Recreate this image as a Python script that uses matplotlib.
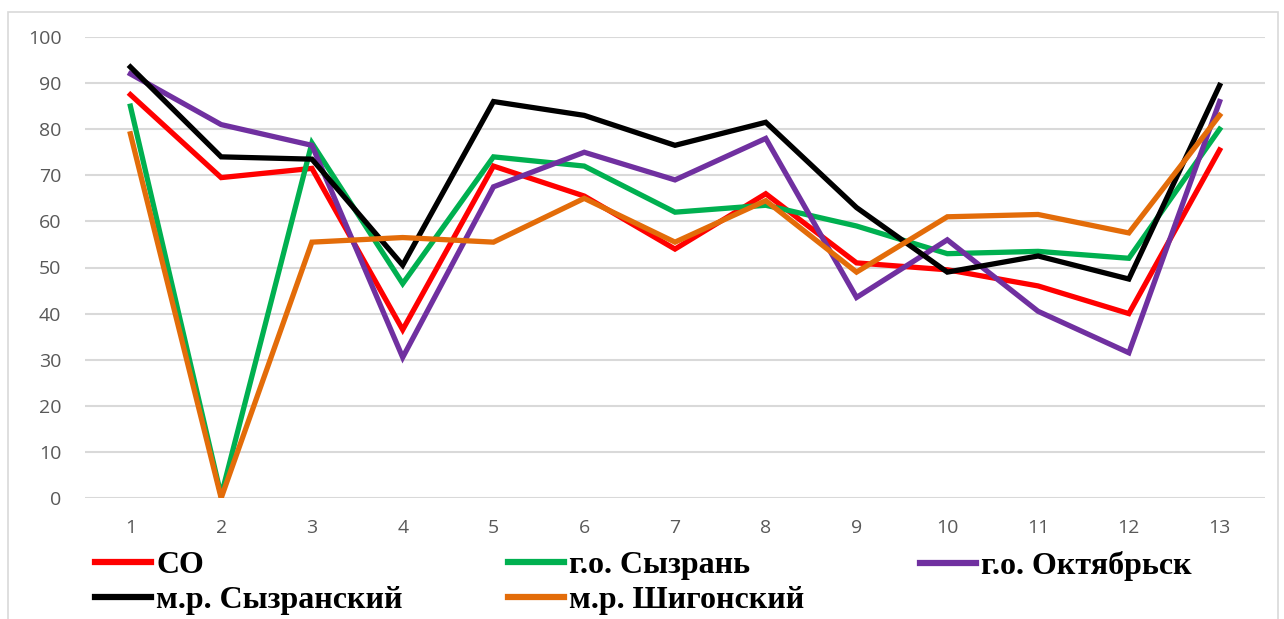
import matplotlib
matplotlib.use("Agg")
import matplotlib.pyplot as plt
from matplotlib.lines import Line2D
from matplotlib.patches import Rectangle

x = list(range(1, 14))
names = ["СО", "г.о. Сызрань", "г.о. Октябрьск", "м.р. Сызранский", "м.р. Шигонский"]
so = [87.5, 69.5, 71.5, 36.5, 72, 65.5, 54, 66, 51, 49.5, 46, 40, 75.5]
syzran = [85, 0.5, 77, 46.5, 74, 72, 62, 63.5, 59, 53, 53.5, 52, 80]
oktyabrsk = [92, 81, 76.5, 30.5, 67.5, 75, 69, 78, 43.5, 56, 40.5, 31.5, 86]
syzranskiy = [93.5, 74, 73.5, 50.5, 86, 83, 76.5, 81.5, 63, 49, 52.5, 47.5, 89.5]
shigonskiy = [79, 0, 55.5, 56.5, 55.5, 65, 55.5, 64.5, 49, 61, 61.5, 57.5, 83]
colors = ["#ff0000", "#00b050", "#7030a0", "#000000", "#e36c09"]
series = [so, syzran, oktyabrsk, syzranskiy, shigonskiy]

W, H = 1284, 619
fig = plt.figure(figsize=(W / 100, H / 100), dpi=100)
ax = fig.add_axes([85 / W, 1 - 498 / H, (1265 - 85) / W, (498 - 37) / H])

fig.patches.append(Rectangle((8 / W, -0.01), (1278 - 8) / W, 1 - 12 / H + 0.01,
                             transform=fig.transFigure, fill=False,
                             edgecolor="#d9d9d9", linewidth=1.2))

for vals, c, n in zip(series, colors, names):
    ax.plot(x, vals, color=c, linewidth=3.8, solid_joinstyle="miter", label=n)

ax.set_xlim(0.5, 13.5)
ax.set_ylim(0, 100)
ax.set_yticks(range(0, 101, 10))
ax.set_xticks(x)
ax.grid(axis="y", color="#d9d9d9", linewidth=1.5)
ax.set_axisbelow(True)
for s in ax.spines.values():
    s.set_visible(False)
ax.tick_params(length=0, labelsize=14, labelcolor="#595959")
ax.tick_params(axis="y", pad=17)
ax.tick_params(axis="x", pad=15)
for lab in ax.get_xticklabels() + ax.get_yticklabels():
    lab.set_fontfamily("Open Sans")

lfont = {"family": "Liberation Serif", "weight": "bold", "size": 23}
cols = [([0, 3], 95), ([1, 4], 508), ([2], 920)]
for idx, xpos in cols:
    fig.legend([Line2D([], [], color=colors[i], linewidth=4.5) for i in idx],
               [names[i] for i in idx], loc="upper left",
               bbox_to_anchor=(xpos / W, 1 - 551 / H), frameon=False,
               prop=lfont, handlelength=1.75, handletextpad=0.16,
               borderpad=0, borderaxespad=0, labelspacing=0.18)

fig.savefig("out.png", dpi=100)
